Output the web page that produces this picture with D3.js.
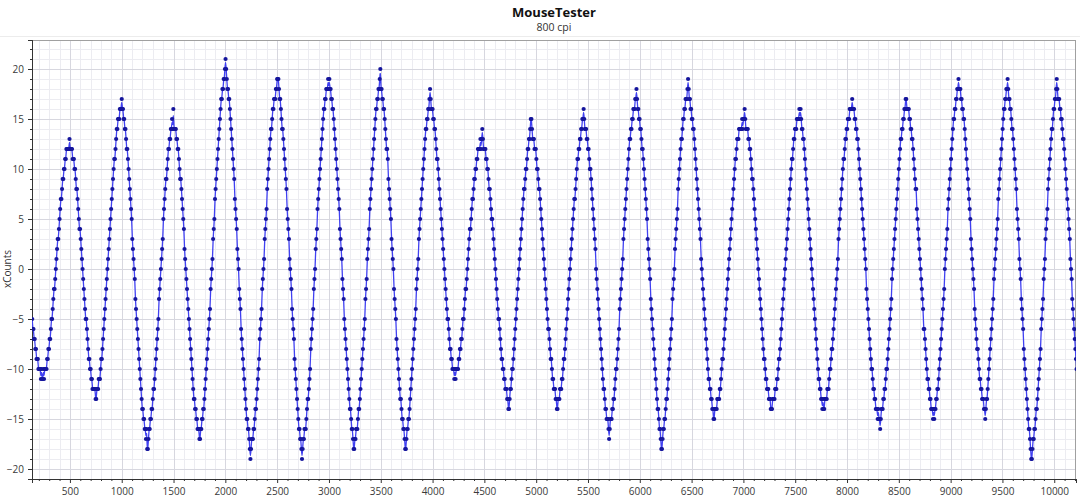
<!DOCTYPE html>
<html><head><meta charset="utf-8">
<script src="https://cdn.jsdelivr.net/npm/d3@7"></script>
<style>
body{margin:0;background:#fff;}
svg{display:block;font-family:"Open Sans","Noto Sans",sans-serif;}
</style>
</head><body>
<svg id="chart" width="1080" height="499"></svg>
<script>
const chartTitle = "MouseTester";
const chartSubtitle = "800 cpi";
const yAxisLabel = "xCounts";
const xTickValues = [500,1000,1500,2000,2500,3000,3500,4000,4500,5000,5500,6000,6500,7000,7500,8000,8500,9000,9500,10000];
const yTickValues = [-20,-15,-10,-5,0,5,10,15,20];
const xDomain = [134, 10210];
const yDomain = [-21, 22.9];
const startMs = 136;      // time of first report (ms)
const intervalMs = 6;     // report interval (ms)
const xCounts = [
-5,-6,-6,-7,-7,-8,-8,-9,-9,-9,-10,-10,-10,-10,-11,-10,-11,-11,-10,-11,
-10,-10,-10,-10,-9,-9,-8,-8,-7,-7,-6,-5,-5,-4,-3,-2,-2,-1,0,1,2,3,3,4,5,6,7,7,8,9,9,10,10,11,11,12,12,12,12,12,13,
12,12,12,12,11,11,11,10,10,9,8,8,7,6,5,4,4,3,2,1,0,-1,-2,-3,-4,-5,-5,-6,-7,-8,-9,-9,-10,-10,-11,-11,-12,-12,-12,-12,-12,-13,-13,
-12,-12,-12,-11,-11,-11,-10,-9,-9,-8,-7,-6,-5,-4,-3,-2,-1,0,1,2,3,4,5,6,7,8,9,10,11,11,12,13,14,14,15,15,15,16,16,16,17,
16,16,15,15,14,14,13,12,12,11,10,9,8,7,6,5,3,2,1,0,-1,-3,-4,-5,-6,-7,-8,-9,-10,-11,-12,-13,-14,-14,-15,-15,-16,-16,-17,-16,-18,
-18,-17,-16,-16,-15,-15,-14,-14,-13,-12,-12,-11,-10,-9,-8,-7,-6,-5,-3,-2,-1,0,1,2,3,5,6,7,8,9,9,10,11,12,12,13,13,14,14,15,14,16,
14,14,14,14,13,13,12,12,11,10,9,9,8,7,6,5,4,2,1,0,-1,-2,-3,-4,-5,-6,-7,-8,-9,-10,-11,-12,-13,-13,-14,-14,-15,-15,-16,-16,-16,-17,-17,
-16,-16,-15,-15,-14,-14,-13,-12,-11,-10,-9,-8,-7,-6,-5,-4,-2,-1,0,1,3,4,5,7,8,9,10,11,12,13,14,15,16,17,17,18,18,19,19,20,21,
20,19,18,18,17,17,16,15,14,13,12,11,10,9,7,6,5,4,2,1,0,-2,-3,-4,-6,-7,-8,-9,-10,-11,-12,-13,-14,-15,-15,-16,-16,-17,-18,-19,
-18,-17,-17,-17,-16,-16,-15,-14,-14,-13,-12,-11,-10,-9,-7,-6,-5,-4,-2,-1,0,1,3,4,5,6,8,9,10,11,12,13,14,14,15,16,16,17,17,17,18,18,19,19,19,
18,17,17,16,15,14,14,13,12,11,10,9,8,6,5,4,3,1,0,-1,-2,-4,-5,-6,-7,-9,-10,-11,-12,-13,-14,-15,-16,-16,-17,-17,-18,-19,
-18,-17,-17,-16,-16,-16,-15,-14,-13,-13,-12,-11,-10,-8,-7,-6,-5,-4,-2,-1,0,2,3,4,6,7,8,9,10,11,12,13,14,15,16,16,17,17,18,18,18,19,18,19,
18,18,17,17,16,16,15,14,13,12,11,10,9,8,7,6,4,3,2,1,-1,-2,-3,-5,-6,-7,-8,-9,-10,-11,-12,-13,-14,-14,-15,-16,-16,-17,-18,-18,
-17,-17,-16,-16,-16,-15,-14,-14,-13,-12,-11,-10,-9,-8,-7,-6,-5,-3,-2,-1,1,2,3,4,6,7,8,9,10,11,12,13,14,15,16,16,17,17,18,18,19,20,
18,18,17,17,16,16,15,14,13,12,12,11,9,8,7,6,5,3,2,1,0,-2,-3,-4,-5,-7,-8,-9,-10,-11,-12,-13,-13,-14,-15,-15,-16,-16,-17,-18,
-18,-17,-16,-16,-15,-15,-14,-13,-12,-11,-10,-9,-8,-7,-6,-5,-4,-2,-1,0,1,3,4,5,6,7,8,9,10,11,12,13,14,14,15,15,16,16,17,18,
17,16,16,16,15,15,14,14,13,12,11,11,10,9,8,7,6,5,4,3,2,1,0,-1,-2,-3,-4,-5,-5,-6,-7,-8,-8,-9,-9,-10,-10,-10,-11,-10,-11,
-10,-10,-10,-10,-9,-9,-8,-8,-7,-7,-6,-5,-5,-4,-3,-2,-2,-1,0,1,2,3,4,4,5,6,7,7,8,9,9,10,10,11,11,12,12,12,12,13,12,13,14,
13,12,12,12,12,11,11,10,10,9,8,8,7,6,5,5,4,3,2,1,0,-1,-2,-3,-4,-5,-5,-6,-7,-8,-9,-9,-10,-10,-11,-11,-12,-12,-12,-13,-13,-14,
-14,-13,-12,-12,-11,-10,-10,-9,-8,-7,-6,-5,-4,-3,-2,-1,0,1,2,3,4,5,6,7,8,8,9,10,10,11,12,12,13,13,14,15,15,
14,13,13,13,12,12,12,11,10,10,9,8,8,7,6,5,4,3,2,1,0,-1,-2,-3,-4,-5,-6,-6,-7,-8,-9,-9,-10,-11,-11,-12,-12,-12,-13,-13,-14,-14,
-13,-13,-13,-12,-12,-12,-11,-11,-10,-9,-9,-8,-7,-6,-5,-4,-3,-2,-1,0,1,2,3,4,5,6,7,7,8,9,10,11,11,12,12,13,13,14,14,15,15,16,
15,14,14,14,13,13,12,12,11,10,10,9,8,7,6,5,4,3,2,0,-1,-2,-3,-4,-5,-6,-7,-8,-9,-10,-11,-12,-12,-13,-14,-14,-15,-15,-15,-16,-17,
-16,-15,-15,-15,-14,-14,-13,-13,-12,-11,-10,-10,-9,-8,-7,-6,-4,-3,-2,-1,0,1,3,4,5,6,7,8,9,10,11,12,13,13,14,14,15,15,16,16,16,17,17,18,
17,16,16,15,15,14,14,13,12,12,11,10,9,8,7,6,5,3,2,1,0,-1,-3,-4,-5,-6,-7,-8,-9,-10,-11,-12,-13,-14,-14,-15,-16,-16,-17,-18,
-18,-17,-16,-16,-15,-15,-14,-13,-13,-12,-11,-10,-9,-8,-7,-6,-5,-3,-2,-1,0,2,3,4,5,6,8,9,10,11,12,13,13,14,15,15,16,16,17,17,17,18,19,
18,17,17,16,16,15,15,14,14,13,12,11,10,9,8,7,6,5,4,3,1,0,-1,-2,-3,-4,-5,-6,-7,-8,-9,-10,-11,-11,-12,-12,-13,-13,-14,-14,-15,
-15,-14,-14,-14,-14,-13,-13,-13,-13,-12,-12,-11,-10,-9,-9,-8,-7,-6,-5,-4,-3,-2,-1,0,1,2,3,4,5,6,7,8,9,10,11,11,12,13,13,13,14,14,14,14,14,15,14,15,15,16,
15,14,14,14,14,13,13,12,12,11,10,9,9,8,7,6,5,4,3,2,1,0,-1,-2,-3,-4,-5,-6,-7,-8,-9,-9,-10,-11,-11,-12,-12,-12,-13,-13,-13,-14,-14,
-14,-13,-13,-13,-13,-12,-12,-12,-11,-11,-10,-9,-9,-8,-7,-6,-5,-4,-3,-2,-1,0,1,2,3,4,5,6,7,8,9,10,11,11,12,13,13,14,14,14,15,15,15,15,16,15,16,
15,14,14,13,13,12,11,10,9,8,7,6,5,4,3,2,1,0,-1,-2,-3,-4,-5,-6,-7,-8,-9,-10,-11,-11,-12,-12,-13,-13,-14,-13,-14,
-14,-13,-13,-13,-13,-12,-12,-12,-11,-10,-10,-9,-8,-8,-7,-6,-5,-4,-3,-2,-1,0,1,3,4,5,6,7,8,9,10,11,11,12,13,13,14,14,15,15,15,16,16,16,16,17,
16,16,16,15,15,14,14,13,13,12,11,10,9,8,7,6,5,4,3,2,1,0,-2,-3,-4,-5,-6,-7,-8,-9,-10,-10,-11,-12,-12,-13,-13,-14,-14,-14,-15,-14,-15,-15,-16,
-15,-14,-14,-14,-13,-13,-12,-12,-11,-10,-10,-9,-8,-7,-6,-5,-4,-3,-1,0,1,2,3,4,5,6,7,8,9,10,11,12,13,13,14,14,15,15,16,16,17,17,
16,16,16,16,15,15,14,14,13,13,12,11,10,9,8,8,6,5,4,3,2,1,0,-1,-2,-3,-4,-6,-6,-7,-8,-9,-10,-11,-11,-12,-12,-13,-13,-14,-14,-14,-15,-14,-15,
-14,-14,-13,-13,-12,-12,-11,-10,-9,-8,-7,-6,-5,-4,-3,-2,0,1,2,3,4,6,7,8,9,10,11,12,13,14,15,15,16,16,17,17,18,18,19,
18,18,18,17,17,16,16,15,15,14,13,12,11,10,9,8,7,6,5,3,2,1,0,-1,-2,-4,-5,-6,-7,-8,-8,-9,-10,-11,-11,-12,-12,-13,-13,-13,-14,-14,-15,
-14,-13,-13,-12,-11,-10,-9,-8,-7,-6,-5,-4,-3,-1,0,1,2,3,4,5,7,8,9,10,11,12,13,14,15,16,16,17,17,18,18,19,
18,17,17,16,16,15,14,14,13,12,11,10,9,8,6,5,4,3,1,0,-1,-3,-4,-5,-6,-8,-9,-10,-11,-12,-13,-14,-15,-16,-16,-17,-18,-19,-19,
-18,-17,-17,-16,-16,-15,-14,-14,-13,-12,-11,-10,-9,-8,-6,-5,-4,-3,-1,0,1,3,4,5,6,8,9,10,11,12,13,14,14,15,16,16,17,17,18,19,
18,17,17,17,16,16,15,15,14,13,13,12,11,10,9,8,7,6,5,4,3,1,0,-1,-3,-4,-5,-6,-7,-8,-9,-10
];

const W = 1080, H = 499;
const m = {left: 32, right: 1076, top: 40, bottom: 479};
const svg = d3.select("#chart");

const x = d3.scaleLinear().domain(xDomain).range([m.left, m.right]);
const y = d3.scaleLinear().domain(yDomain).range([m.bottom, m.top]);

const data = xCounts.map((v, i) => ({t: startMs + i * intervalMs, v}));

// background
svg.append("rect").attr("width", W).attr("height", H).attr("fill", "#fff");
svg.append("line").attr("x1", 0).attr("x2", W).attr("y1", 36.5).attr("y2", 36.5)
  .attr("stroke", "#ececec").attr("stroke-width", 1);

// grid
const grid = svg.append("g");
const minorX = d3.range(200, 10201, 100).filter(d => d % 500 !== 0);
const minorY = d3.range(-21, 23, 1).filter(d => d % 5 !== 0);
grid.selectAll(".mx").data(minorX).join("line")
  .attr("x1", d => Math.round(x(d)) + 0.5).attr("x2", d => Math.round(x(d)) + 0.5)
  .attr("y1", m.top).attr("y2", m.bottom).attr("stroke", "#ececf1");
grid.selectAll(".my").data(minorY).join("line")
  .attr("y1", d => Math.round(y(d)) + 0.5).attr("y2", d => Math.round(y(d)) + 0.5)
  .attr("x1", m.left).attr("x2", m.right).attr("stroke", "#ececf1");
grid.selectAll(".Mx").data(xTickValues).join("line")
  .attr("x1", d => Math.round(x(d)) + 0.5).attr("x2", d => Math.round(x(d)) + 0.5)
  .attr("y1", m.top).attr("y2", m.bottom).attr("stroke", "#d7d7df");
grid.selectAll(".My").data(yTickValues).join("line")
  .attr("y1", d => Math.round(y(d)) + 0.5).attr("y2", d => Math.round(y(d)) + 0.5)
  .attr("x1", m.left).attr("x2", m.right).attr("stroke", "#d7d7df");

// frame
svg.append("rect").attr("x", m.left + 0.5).attr("y", m.top + 0.5)
  .attr("width", m.right - m.left - 1).attr("height", m.bottom - m.top)
  .attr("fill", "none").attr("stroke", "#a0a0a0");

// axes
const xAxis = d3.axisBottom(x).tickValues(xTickValues).tickSize(4).tickPadding(5).tickFormat(d3.format("d"));
const xMinorAxis = d3.axisBottom(x).tickValues(minorX).tickSize(2).tickFormat("");
const yAxis = d3.axisLeft(y).tickValues(yTickValues).tickSize(4).tickPadding(4).tickFormat(d3.format("d"));
const yMinorAxis = d3.axisLeft(y).tickValues(minorY).tickSize(2).tickFormat("");

function styleAxis(g) {
  g.select(".domain").attr("stroke", "#333");
  g.selectAll(".tick line").attr("stroke", "#333");
  g.selectAll("text").attr("fill", "#3a3a3a").style("font-size", "10px")
    .style("font-family", '"Open Sans","Noto Sans",sans-serif');
}
svg.append("g").attr("transform", `translate(0,${m.bottom})`).call(xMinorAxis).call(styleAxis);
svg.append("g").attr("transform", `translate(0,${m.bottom})`).call(xAxis).call(styleAxis);
svg.append("g").attr("transform", `translate(${m.left},0)`).call(yMinorAxis).call(styleAxis);
svg.append("g").attr("transform", `translate(${m.left},0)`).call(yAxis).call(styleAxis);

// clip
svg.append("clipPath").attr("id", "plotclip").append("rect")
  .attr("x", m.left).attr("y", m.top).attr("width", m.right - m.left).attr("height", m.bottom - m.top);

const plot = svg.append("g").attr("clip-path", "url(#plotclip)");

const line = d3.line().x(d => x(d.t)).y(d => y(d.v)).curve(d3.curveBasis);
plot.append("path").datum(data).attr("d", line)
  .attr("fill", "none").attr("stroke", "#4040f2").attr("stroke-width", 1.3);

plot.selectAll("circle").data(data).join("circle")
  .attr("cx", d => x(d.t)).attr("cy", d => y(d.v)).attr("r", 2.1)
  .attr("fill", "#15159c");

// titles
svg.append("text").attr("x", (m.left + m.right) / 2).attr("y", 17)
  .attr("text-anchor", "middle").style("font-size", "13px").style("font-weight", "bold")
  .attr("fill", "#111").text(chartTitle);
svg.append("text").attr("x", (m.left + m.right) / 2).attr("y", 31)
  .attr("text-anchor", "middle").style("font-size", "10.5px")
  .attr("fill", "#333").text(chartSubtitle);
svg.append("text").attr("transform", `translate(11,${y(0)}) rotate(-90)`)
  .attr("text-anchor", "middle").style("font-size", "10px")
  .attr("fill", "#333").text(yAxisLabel);
</script>
</body></html>
